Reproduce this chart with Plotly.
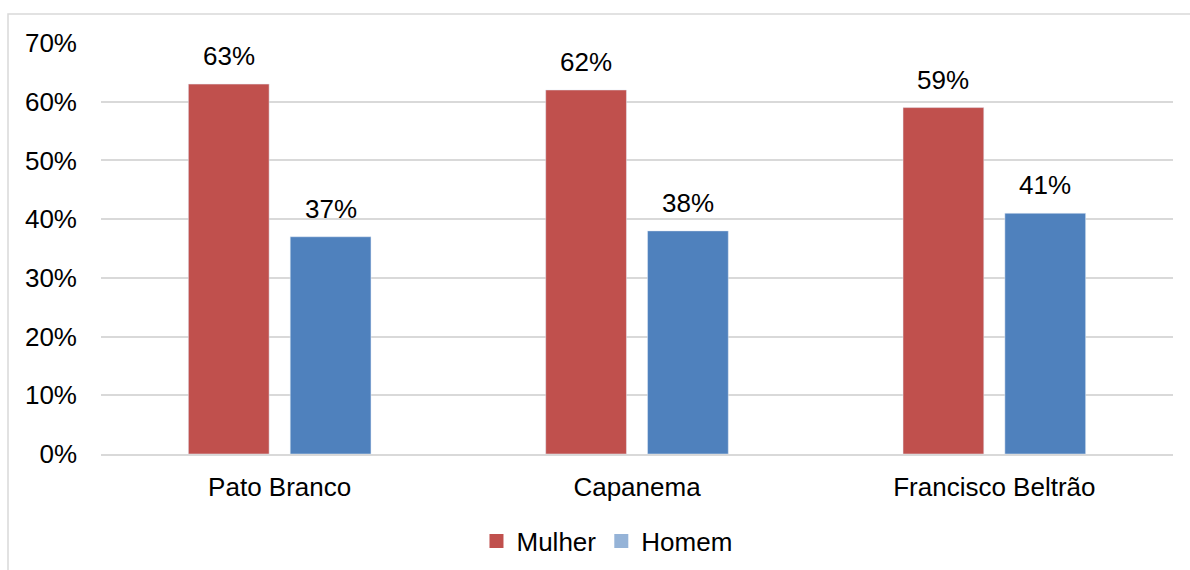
import plotly.graph_objects as go

categories = ["Pato Branco", "Capanema", "Francisco Beltrão"]
mulher = [0.63, 0.62, 0.59]
homem = [0.37, 0.38, 0.41]
y_ticks = [0, 0.1, 0.2, 0.3, 0.4, 0.5, 0.6, 0.7]
y_tick_labels = ["0%", "10%", "20%", "30%", "40%", "50%", "60%", "70%"]

W, H = 1190, 570
ML, MR, MT, MB = 101, 17, 43, 116
PW, PH = W - ML - MR, H - MT - MB

RED = "#C0504D"
BLUE = "#4F81BD"
BLUE_LEG = "#95B3D7"
GRID = "#D9D9D9"
FONT = "Liberation Sans, Arial, sans-serif"
FS = 26

bargap = 0.43
groupgap = 0.207
slot_px = PW / len(categories) * (1 - bargap) / 2

fig = go.Figure()
fig.add_trace(go.Bar(x=categories, y=mulher, name="Mulher", marker_color=RED,
                     showlegend=False))
fig.add_trace(go.Bar(x=categories, y=homem, name="Homem", marker_color=BLUE,
                     showlegend=False))
# legend entries
fig.add_trace(go.Scatter(x=[None], y=[None], mode="markers", name="Mulher",
                         marker=dict(symbol="square", size=14, color=RED)))
fig.add_trace(go.Scatter(x=[None], y=[None], mode="markers", name="Homem",
                         marker=dict(symbol="square", size=14, color=BLUE_LEG)))

annotations = []
for series, shift in ((mulher, -slot_px / 2), (homem, slot_px / 2)):
    for c, v in zip(categories, series):
        annotations.append(dict(x=c, y=v, xref="x", yref="y", text=f"{round(v*100)}%",
                                showarrow=False, xshift=shift, yshift=11,
                                yanchor="bottom", font=dict(size=FS, color="#000000")))

def px_x(p):
    return (p - ML) / PW

def px_y(p):
    return (H - MB - p) / PH

fig.update_layout(
    width=W, height=H,
    margin=dict(l=ML, r=MR, t=MT, b=MB, pad=0, autoexpand=False),
    paper_bgcolor="white", plot_bgcolor="white",
    barmode="group", bargap=bargap, bargroupgap=groupgap,
    font=dict(family=FONT, size=FS, color="#000000"),
    annotations=annotations,
    legend=dict(orientation="h", x=0.472, xanchor="center",
                yref="container", y=(H - 541) / H, yanchor="middle",
                font=dict(size=FS), itemwidth=30, tracegroupgap=0,
                bgcolor="rgba(0,0,0,0)"),
    shapes=[dict(type="rect", xref="paper", yref="paper",
                 x0=px_x(8), x1=px_x(1200), y0=px_y(580), y1=px_y(14),
                 line=dict(color=GRID, width=1.5), layer="below")],
    xaxis=dict(showgrid=False, showline=True, linecolor=GRID, linewidth=2,
               ticks="", tickfont=dict(size=FS), ticklabelstandoff=9,
               fixedrange=True, automargin=False),
    yaxis=dict(range=[0, 0.7], tickvals=y_ticks, ticktext=y_tick_labels,
               showgrid=True, gridcolor=GRID, gridwidth=2, zeroline=False,
               showline=False, ticks="", tickfont=dict(size=FS),
               ticklabelstandoff=23, fixedrange=True, automargin=False),
)

fig.write_html("out.html")
